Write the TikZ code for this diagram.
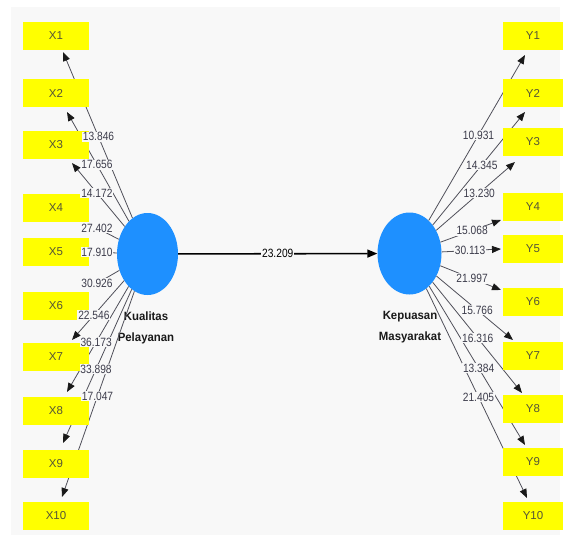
\documentclass[tikz,border=0pt]{standalone}
\usepackage{fontspec}
\setmainfont{Liberation Sans}
\newfontfamily\lblfont[FakeStretch=0.85]{Liberation Sans}
\newfontfamily\lvfont[FakeStretch=0.95]{Liberation Sans}
\usetikzlibrary{shapes.geometric,arrows.meta}
\definecolor{lvblue}{RGB}{30,144,255}
\definecolor{indyellow}{RGB}{255,255,0}
\definecolor{bgc}{RGB}{248,248,248}
\definecolor{lblc}{RGB}{60,60,75}
\definecolor{indtxt}{RGB}{85,85,55}
\definecolor{linec}{RGB}{80,80,90}
\tikzset{
  indbox/.style={rectangle, fill=indyellow, minimum height=28pt, inner sep=0pt,
    text=indtxt, font=\fontsize{11.5}{11.5}\selectfont},
  indL/.style={indbox, minimum width=66pt},
  indR/.style={indbox, minimum width=60pt},
  lv/.style={ellipse, fill=lvblue, minimum width=61pt, minimum height=82pt, inner sep=0pt},
  lvname/.style={align=center, font=\lvfont\bfseries\fontsize{12}{21}\selectfont, text=black!90},
  load/.style={draw=linec, line width=0.8pt, -{Triangle[length=9pt,width=7pt,color=black!90]}},
  mainarrow/.style={draw=black, line width=1.6pt, -{Triangle[length=10pt,width=8pt]}},
  lbl/.style={fill=bgc, inner sep=0.8pt, text=lblc, font=\lblfont\fontsize{12}{12}\selectfont},
}
\begin{document}
\begin{tikzpicture}[x=1pt,y=-1pt]
\useasboundingbox (0,0) rectangle (567,535);
\fill[white] (0,0) rectangle (567,535);
\fill[bgc] (11,7) rectangle (560,535);

% latent variables
\node[lv] (KP) at (147.5,254) {};
\node[lv, minimum width=64pt] (KM) at (409.5,253.5) {};
\node[lvname] (nKP) at (146,327.5) {Kualitas\\Pelayanan};
\node[lvname] (nKM) at (410,327.5) {Kepuasan\\Masyarakat};

% tip coordinates, left
\coordinate (tX1) at (63,52);
\coordinate (tX2) at (67,112);
\coordinate (tX3) at (72,163);
\coordinate (tX4) at (89,224);
\coordinate (tX5) at (89,252);
\coordinate (tX6) at (89,288);
\coordinate (tX7) at (72,340);
\coordinate (tX8) at (67,392);
\coordinate (tX9) at (63,443);
\coordinate (tX10) at (62,497);
% tip coordinates, right
\coordinate (tY1) at (525,55);
\coordinate (tY2) at (525,112);
\coordinate (tY3) at (515,162);
\coordinate (tY4) at (501,220);
\coordinate (tY5) at (501,249);
\coordinate (tY6) at (501,290);
\coordinate (tY7) at (513,340);
\coordinate (tY8) at (522,393);
\coordinate (tY9) at (525,445);
\coordinate (tY10) at (527,498);

% connector lines
\foreach \i in {1,...,10} {
  \draw[load] (KP) -- (tX\i);
  \draw[load] (KM) -- (tY\i);
}

% indicator boxes
\foreach \i/\y in {1/36,2/93,3/145,4/208,5/252,6/306,7/357,8/411,9/464,10/516} {
  \node[indL] (X\i) at (56,\y) {X\i};
}
\foreach \i/\y in {1/36,2/93,3/142,4/207,5/249,6/302,7/356,8/409,9/462,10/516} {
  \node[indR] (Y\i) at (533,\y) {Y\i};
}

% loading labels
\foreach \i/\p/\v in {1/0.489/13.846, 2/0.516/17.656, 3/0.528/14.172, 4/0.733/27.402,
    5/0.714/17.910, 6/0.738/30.926, 7/0.580/22.546, 8/0.527/36.173, 9/0.519/33.898,
    10/0.509/17.047} {
  \path (KP) -- node[lbl, pos=\p] (lX\i) {\v} (tX\i);
}
\foreach \i/\p/\v in {1/0.517/10.931, 2/0.532/14.345, 3/0.547/13.230, 4/0.523/15.068,
    5/0.479/30.113, 6/0.524/21.997, 7/0.532/15.766, 8/0.505/16.316, 9/0.516/13.384,
    10/0.518/21.405} {
  \path (KM) -- node[lbl, pos=\p] (lY\i) {\v} (tY\i);
}

% structural path
\draw[mainarrow] (KP) -- node[lbl, text=black, pos=0.5] (lmain) {23.209} (KM);
\end{tikzpicture}
\end{document}
